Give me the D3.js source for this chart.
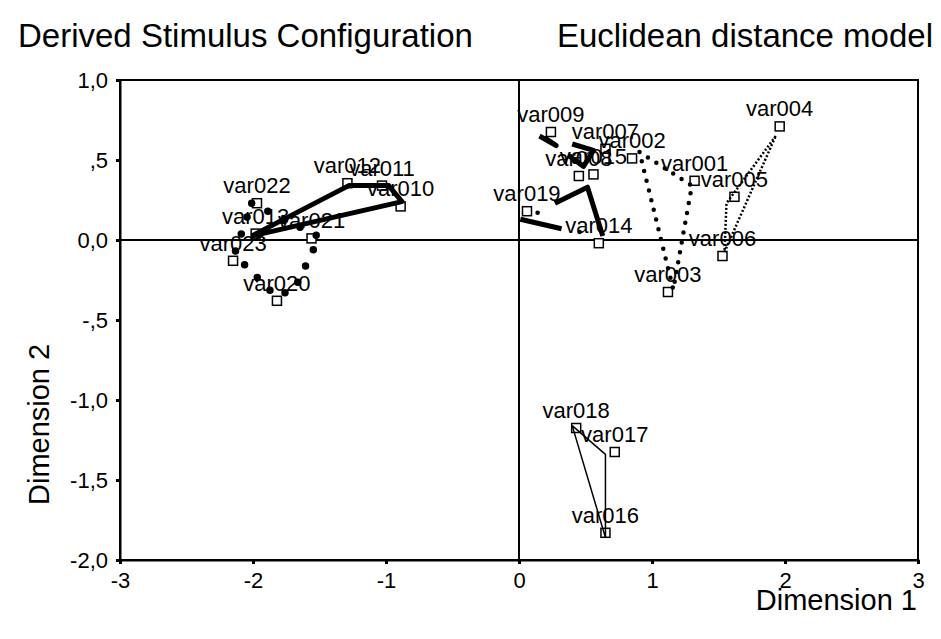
<!DOCTYPE html>
<html><head><meta charset="utf-8">
<script src="https://cdn.jsdelivr.net/npm/d3@7"></script>
<style>body{margin:0;background:#fff}svg{display:block}text{font-family:"Liberation Sans",Arial,sans-serif;fill:#000}</style>
</head><body><svg id="c" width="941" height="639"></svg>
<script>
// Stimulus points (Dimension 1, Dimension 2)
const stimNames = ["var001","var002","var003","var004","var005","var006","var007","var008","var009","var010","var011","var012","var013","var014","var015","var016","var017","var018","var019","var020","var021","var022","var023"];
const dim1 = [1.32,0.85,1.12,1.96,1.62,1.53,0.65,0.45,0.24,-0.89,-1.03,-1.29,-1.98,0.60,0.56,0.65,0.72,0.43,0.06,-1.82,-1.56,-1.97,-2.15];
const dim2 = [0.37,0.51,-0.325,0.71,0.27,-0.10,0.57,0.40,0.675,0.21,0.34,0.355,0.04,-0.02,0.41,-1.83,-1.325,-1.175,0.18,-0.38,0.01,0.23,-0.13];

// Connecting line groups, in data units
const thickSolidPaths = [
  [[-2.01,0.025],[-1.28,0.34],[-0.98,0.34],[-0.88,0.24],[-2.01,0.025]],
  [[0.154,0.65],[0.28,0.59],[0.19,0.64]],
  [[0.40,0.60],[0.56,0.56],[0.485,0.46],[0.37,0.53]],
  [[0.27,0.23],[0.515,0.33],[0.63,0.025]],
  [[0.01,0.13],[0.32,0.07]]
];
const bigDotPaths = [
  [[-2.01,0.23],[-1.50,0.02],[-1.69,-0.31],[-1.83,-0.35],[-2.14,-0.09],[-2.01,0.23]]
];
const midDotPaths = [
  [[0.906,0.55],[1.30,0.34],[1.16,-0.31],[0.906,0.55]]
];
const fineDotPaths = [
  [[1.93,0.65],[1.56,0.23],[1.545,-0.075],[1.93,0.65]]
];
const thinSolidPaths = [
  [[0.40,-1.16],[0.65,-1.34],[0.65,-1.86],[0.40,-1.16]]
];
const strayDots = [[0.14,0.17],[0.455,0.05]];

const xTicks = [-3,-2,-1,0,1,2,3];
const yTicks = [1.0,0.5,0.0,-0.5,-1.0,-1.5,-2.0];
const yTickLabels = ["1,0",",5","0,0","-,5","-1,0","-1,5","-2,0"];

const svg = d3.select("#c");
const x = d3.scaleLinear().domain([-3,3]).range([120,918]);
const y = d3.scaleLinear().domain([-2,1]).range([560,80]);

// titles
svg.append("text").attr("x",18).attr("y",47).attr("font-size",33).text("Derived Stimulus Configuration");
svg.append("text").attr("x",933).attr("y",47).attr("font-size",33).attr("text-anchor","end").text("Euclidean distance model");

// frame
svg.append("rect").attr("x",x(-3)).attr("y",y(1)).attr("width",x(3)-x(-3)).attr("height",y(-2)-y(1))
  .attr("fill","none").attr("stroke","#000").attr("stroke-width",2);
// zero lines
svg.append("line").attr("x1",x(-3)).attr("x2",x(3)).attr("y1",y(0)).attr("y2",y(0)).attr("stroke","#000").attr("stroke-width",2);
svg.append("line").attr("x1",x(0)).attr("x2",x(0)).attr("y1",y(1)).attr("y2",y(-2)).attr("stroke","#000").attr("stroke-width",2);

// axes
const yAxis = d3.axisLeft(y).tickValues(yTicks).tickSize(4).tickPadding(8)
  .tickFormat((d,i)=>yTickLabels[i]);
const gy = svg.append("g").attr("transform",`translate(${x(-3)},0)`).call(yAxis);
const xAxis = d3.axisBottom(x).tickValues(xTicks).tickSize(4).tickPadding(8).tickFormat(d=>String(d).replace("\u2212","-"));
const gx = svg.append("g").attr("transform",`translate(0,${y(-2)})`).call(xAxis);
[gx,gy].forEach(g=>{
  g.select(".domain").attr("stroke","#000").attr("stroke-width",2);
  g.selectAll(".tick line").attr("stroke","#000").attr("stroke-width",3);
  g.selectAll(".tick text").attr("font-size",22).attr("font-family","Liberation Sans, Arial, sans-serif");
});

svg.append("text").attr("x",917).attr("y",610).attr("font-size",29).attr("text-anchor","end").text("Dimension 1");
svg.append("text").attr("transform","translate(49,505) rotate(-90)").attr("font-size",29).text("Dimension 2");

// squares
const pts = stimNames.map((n,i)=>({name:n,x:dim1[i],y:dim2[i]}));
svg.append("g").selectAll("rect").data(pts).join("rect")
  .attr("x",d=>x(d.x)-4.5).attr("y",d=>y(d.y)-4.5).attr("width",9).attr("height",9)
  .attr("fill","#fff").attr("stroke","#000").attr("stroke-width",1.5);

const line = d3.line().x(d=>x(d[0])).y(d=>y(d[1]));
const lg = svg.append("g");
lg.selectAll("path.ts").data(thickSolidPaths).join("path").attr("class","ts").attr("d",line)
  .attr("fill","none").attr("stroke","#000").attr("stroke-width",5).attr("stroke-linejoin","round");
lg.selectAll("path.bd").data(bigDotPaths).join("path").attr("class","bd").attr("d",line)
  .attr("fill","none").attr("stroke","#000").attr("stroke-width",7.5).attr("stroke-linecap","round").attr("stroke-dasharray","0,18");
lg.selectAll("path.md").data(midDotPaths).join("path").attr("class","md").attr("d",line)
  .attr("fill","none").attr("stroke","#000").attr("stroke-width",4.5).attr("stroke-linecap","round").attr("stroke-dasharray","0,10");
lg.selectAll("path.fd").data(fineDotPaths).join("path").attr("class","fd").attr("d",line)
  .attr("fill","none").attr("stroke","#000").attr("stroke-width",2.5).attr("stroke-dasharray","2,2");
lg.selectAll("path.tn").data(thinSolidPaths).join("path").attr("class","tn").attr("d",line)
  .attr("fill","none").attr("stroke","#000").attr("stroke-width",1.5);
lg.selectAll("circle").data(strayDots).join("circle").attr("cx",d=>x(d[0])).attr("cy",d=>y(d[1])).attr("r",2.3).attr("fill","#000");

// labels
svg.append("g").selectAll("text").data(pts).join("text")
  .attr("x",d=>x(d.x)).attr("y",d=>y(d.y)-10).attr("text-anchor","middle").attr("font-size",22)
  .text(d=>d.name);
</script></body></html>
